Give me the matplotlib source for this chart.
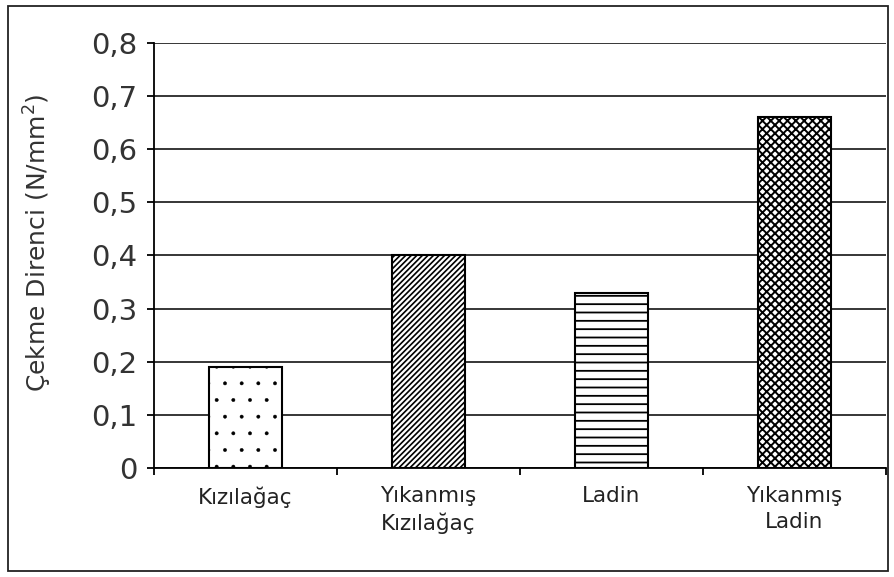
import numpy as np
import matplotlib.pyplot as plt
from matplotlib.patches import Rectangle

# Tensile strength by wood type
categories = ['Kızılağaç', 'Yıkanmış\nKızılağaç', 'Ladin', 'Yıkanmış\nLadin']
values = [0.19, 0.40, 0.33, 0.66]
hatches = ['.', '//////', '--', 'xxxx']
hatch_widths = [0.3, 1.2, 1.3, 1.4]
yticks = [0, 0.1, 0.2, 0.3, 0.4, 0.5, 0.6, 0.7, 0.8]
ytick_labels = ['0', '0,1', '0,2', '0,3', '0,4', '0,5', '0,6', '0,7', '0,8']

plt.rcParams['font.family'] = ['DejaVu Sans']

fig = plt.figure(figsize=(8.94, 5.77), dpi=100)
ax = fig.add_axes([0.1723, 0.1889, 0.8187, 0.7366])

x = np.arange(len(categories))
for xi, v, h, hw in zip(x, values, hatches, hatch_widths):
    with plt.rc_context({'hatch.linewidth': hw}):
        ax.bar(xi, v, width=0.4, color='white', edgecolor='black',
               linewidth=1.5, hatch=h, zorder=3)

ax.set_xlim(-0.5, 3.5)
ax.set_ylim(0, 0.8)
ax.set_yticks(yticks)
ax.set_yticklabels(ytick_labels, fontsize=21, color='#333333')
ax.yaxis.grid(True, color='black', linewidth=1.1)
ax.set_axisbelow(True)

# category boundaries as tick marks, names at bar centres
ax.set_xticks(np.arange(-0.5, 4, 1))
ax.set_xticklabels([])
ax.set_xticks(x, minor=True)
ax.set_xticklabels(categories, minor=True, fontsize=15.5, color='#222222')
for lbl in ax.get_xticklabels(minor=True):
    lbl.set_linespacing(1.35)
ax.tick_params(axis='x', which='major', direction='out', length=5, width=1.3)
ax.tick_params(axis='x', which='minor', length=0, pad=13)
ax.tick_params(axis='y', direction='out', length=5, width=1.3, pad=7)

for s in ['top', 'right']:
    ax.spines[s].set_visible(False)
for s in ['left', 'bottom']:
    ax.spines[s].set_linewidth(1.3)

ax.set_ylabel('Çekme Direnci (N/mm$^2$)', fontsize=18, color='#333333')
ax.yaxis.set_label_coords(-0.137, 0.53)

# border around the whole chart
fig.patches.append(Rectangle((8 / 894, 6 / 577), 880 / 894, 565 / 577,
                             transform=fig.transFigure, fill=False,
                             edgecolor='#222222', linewidth=1.3))

fig.savefig('out.png', dpi=100)
